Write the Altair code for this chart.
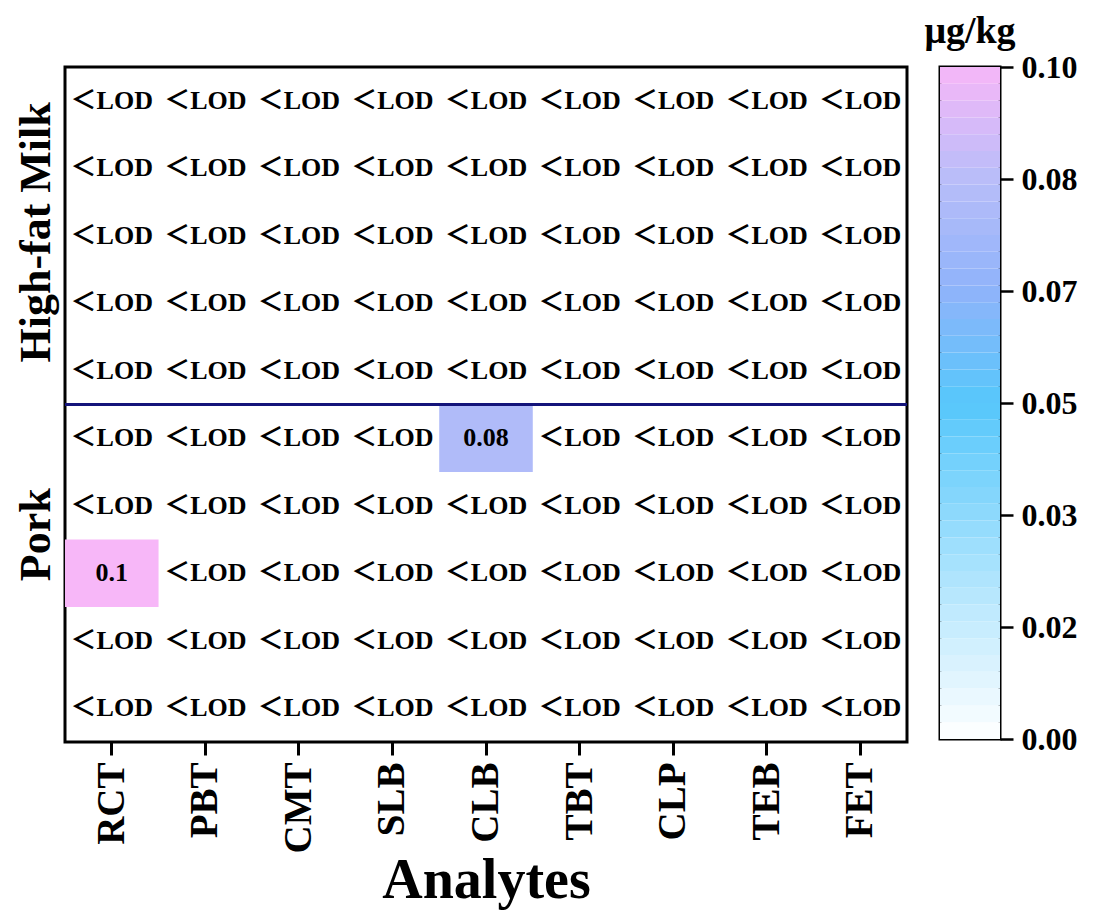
import altair as alt
import pandas as pd
import numpy as np

# ---- data ----
analytes = ["RCT", "PBT", "CMT", "SLB", "CLB", "TBT", "CLP", "TEB", "FET"]
rows = ["Milk 1", "Milk 2", "Milk 3", "Milk 4", "Milk 5",
        "Pork 1", "Pork 2", "Pork 3", "Pork 4", "Pork 5"]
groups = ["High-fat Milk", "Pork"]
group_anchor_rows = ["Milk 3", "Pork 2"]
divider_row = ["Pork 1"]
detected_rows = ["Pork 1", "Pork 3"]
detected_analytes = ["CLB", "RCT"]
detected_values = [0.08, 0.1]
detected_labels = ["0.08", "0.1"]
lod_label = "＜LOD"
cbar_ticks = [0.0, 1 / 60, 2 / 60, 3 / 60, 4 / 60, 5 / 60, 0.1]
color_domain = [0.0, 0.05, 0.0667, 0.0833, 0.1]
color_range = ["#ffffff", "#56c7fb", "#8fb3fa", "#b8bdf9", "#f7b7f8"]

FONT = "Liberation Serif"
W, H = 842, 675

# ---- tables ----
recs = []
for r in rows:
    for a in analytes:
        val, lab = None, lod_label
        for dr, da, dv, dl in zip(detected_rows, detected_analytes, detected_values, detected_labels):
            if dr == r and da == a:
                val, lab = dv, dl
        recs.append({"row": r, "analyte": a, "value": val, "label": lab})
df = pd.DataFrame(recs)
milk_df = pd.DataFrame({"group": groups[:1], "row": group_anchor_rows[:1]})
pork_df = pd.DataFrame({"group": groups[1:], "row": group_anchor_rows[1:]})
div_df = pd.DataFrame({"row": divider_row})

steps = np.linspace(0, 0.1, 41)
cb_df = pd.DataFrame({"v0": steps[:-1], "v1": steps[1:],
                      "mid": (steps[:-1] + steps[1:]) / 2, "col": "bar"})

cscale = alt.Scale(domain=color_domain, range=color_range, interpolate="rgb")
xscale = alt.Scale(domain=analytes, paddingInner=0, paddingOuter=0)
yscale = alt.Scale(domain=rows, paddingInner=0, paddingOuter=0)

xaxis = alt.Axis(labelAngle=270, labelAlign="right", labelBaseline="middle",
                 labelFont=FONT, labelFontSize=39, labelFontWeight="bold",
                 labelColor="black", labelPadding=7, tickSize=13, tickWidth=3,
                 tickColor="black", domain=False, title="Analytes",
                 titleFont=FONT, titleFontSize=56, titleFontWeight="bold",
                 titleColor="black", titlePadding=1)

base = alt.Chart(df)
cells = base.transform_filter("datum.value != null").mark_rect().encode(
    x=alt.X("analyte:N", scale=xscale, axis=xaxis),
    y=alt.Y("row:N", scale=yscale, axis=None),
    color=alt.Color("value:Q", scale=cscale, legend=None),
)
texts = base.mark_text(font=FONT + ", Noto Sans CJK SC", fontSize=26, fontWeight="bold",
                       color="black").encode(
    x=alt.X("analyte:N", scale=xscale, axis=xaxis),
    y=alt.Y("row:N", scale=yscale, axis=None),
    text="label:N",
)
divider = alt.Chart(div_df).mark_rule(color="#14147a", strokeWidth=3).encode(
    y=alt.Y("row:N", scale=yscale, axis=None, bandPosition=0),
    x=alt.value(0), x2=alt.value(W),
)
gl_style = dict(font=FONT, fontSize=44, fontWeight="bold", color="black",
                angle=270, align="center", baseline="middle")
milk_lab = alt.Chart(milk_df).mark_text(**gl_style).encode(
    y=alt.Y("row:N", scale=yscale, axis=None, bandPosition=0.45),
    x=alt.value(-28), text="group:N",
)
pork_lab = alt.Chart(pork_df).mark_text(**gl_style).encode(
    y=alt.Y("row:N", scale=yscale, axis=None, bandPosition=0.93),
    x=alt.value(-28), text="group:N",
)
heat = alt.layer(cells, texts, divider, milk_lab, pork_lab).properties(width=W, height=H)

cbar = alt.Chart(cb_df).mark_rect().encode(
    x=alt.X("col:N", axis=None, scale=alt.Scale(paddingInner=0, paddingOuter=0)),
    y=alt.Y("v0:Q", scale=alt.Scale(domain=[0, 0.1], nice=False, zero=False),
            axis=alt.Axis(orient="right", values=cbar_ticks, format=".2f",
                          labelFont=FONT, labelFontSize=32, labelFontWeight="bold",
                          labelColor="black", tickSize=13, tickWidth=2.5,
                          tickColor="black", domain=False, grid=False,
                          labelPadding=8, title=None)),
    y2="v1:Q",
    color=alt.Color("mid:Q", scale=cscale, legend=None),
).properties(width=60, height=672,
             title=alt.TitleParams("μg/kg", font=FONT, fontSize=38, fontWeight="bold",
                                   color="black", anchor="middle", offset=0))

chart = alt.hconcat(heat, cbar, spacing=12).configure_view(
    stroke="black", strokeWidth=3
).properties(background="white", padding={"left": 5, "top": 3, "right": 0, "bottom": 1})

chart.save("out.html", embed_options={"renderer": "svg", "actions": False})
